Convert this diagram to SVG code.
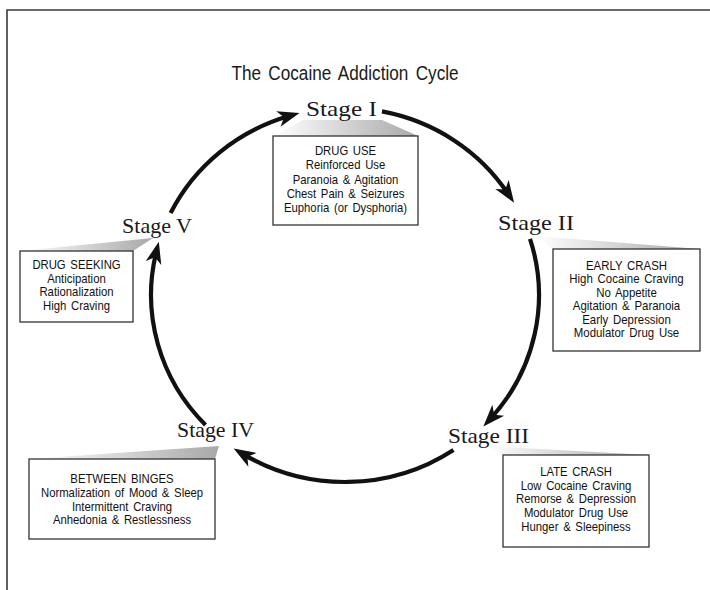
<svg xmlns="http://www.w3.org/2000/svg" width="710" height="590" viewBox="0 0 710 590">
<style>
.frame{fill:none;stroke:#3a3a3a;stroke-width:1.6}
.arc{fill:none;stroke:#111;stroke-width:4.2;marker-end:url(#ah)}
.box{fill:#fff;stroke:#333;stroke-width:1.3}
.wedge{fill:url(#wg)}
.stage{font-family:"Liberation Serif","Times New Roman",serif;font-size:21px;fill:#1a1a1a}
.bt{font-family:"Liberation Sans",Arial,sans-serif;font-size:13px;fill:#111;text-anchor:middle;word-spacing:1.8px}
.title{font-family:"Liberation Sans",Arial,sans-serif;font-size:19.5px;fill:#1a1a1a;text-anchor:middle;word-spacing:3px}
</style>
<defs>
<marker id="ah" markerUnits="userSpaceOnUse" markerWidth="22" markerHeight="16" refX="12" refY="8" orient="auto" overflow="visible">
<path d="M0,0 L22,8 L0,16 L6,8 Z" fill="#111"/>
</marker>
<linearGradient id="wg" x1="0" y1="0" x2="1" y2="0">
<stop offset="0" stop-color="#ffffff"/>
<stop offset="1" stop-color="#a8a8a8"/>
</linearGradient>
</defs>
<rect width="710" height="590" fill="#fff"/>
<path class="frame" d="M710,10 L7,10 L7,590"/>
<g transform="translate(345,80) scale(0.88,1)"><text class="title" x="0" y="0">The Cocaine Addiction Cycle</text></g>

<g id="connectors">
<path class="arc" d="M170.6,213 A194,187 0 0 1 289.9,115.7"/>
<path class="arc" d="M382,111.4 A194,187 0 0 1 508.6,194.5"/>
<path class="arc" d="M530,238.8 A194,187 0 0 1 490.1,419.1"/>
<path class="arc" d="M453.5,450 A194,187 0 0 1 242.2,453.6"/>
<path class="arc" d="M205.5,424.9 A194,187 0 0 1 156.4,251.4"/>
</g>

<g id="stage1">
<polygon class="wedge" points="273,136 303,120 382,120 418,136"/>
<rect class="box" x="273" y="136" width="145" height="89"/>
<text class="stage" x="306" y="116" textLength="71" lengthAdjust="spacingAndGlyphs">Stage I</text>
<g transform="translate(345.5,0) scale(0.87,1)">
<text class="bt" x="0" y="155">DRUG USE</text>
<text class="bt" x="0" y="169.5">Reinforced Use</text>
<text class="bt" x="0" y="184">Paranoia &amp; Agitation</text>
<text class="bt" x="0" y="198">Chest Pain &amp; Seizures</text>
<text class="bt" x="0" y="212">Euphoria (or Dysphoria)</text>
</g>
</g>

<g id="stage2">
<polygon class="wedge" points="536,236 700,249 553,249"/>
<rect class="box" x="553" y="249" width="147" height="102"/>
<text class="stage" x="498" y="230" textLength="76" lengthAdjust="spacingAndGlyphs">Stage II</text>
<g transform="translate(626.5,0) scale(0.88,1)">
<text class="bt" x="0" y="270">EARLY CRASH</text>
<text class="bt" x="0" y="283.5">High Cocaine Craving</text>
<text class="bt" x="0" y="297">No Appetite</text>
<text class="bt" x="0" y="310.5">Agitation &amp; Paranoia</text>
<text class="bt" x="0" y="324">Early Depression</text>
<text class="bt" x="0" y="337.5">Modulator Drug Use</text>
</g>
</g>

<g id="stage3">
<polygon class="wedge" points="486,446 649,455 503,455"/>
<rect class="box" x="503" y="455" width="146" height="92"/>
<text class="stage" x="448" y="443" textLength="81" lengthAdjust="spacingAndGlyphs">Stage III</text>
<g transform="translate(576,0) scale(0.87,1)">
<text class="bt" x="0" y="476">LATE CRASH</text>
<text class="bt" x="0" y="490">Low Cocaine Craving</text>
<text class="bt" x="0" y="503.5">Remorse &amp; Depression</text>
<text class="bt" x="0" y="517">Modulator Drug Use</text>
<text class="bt" x="0" y="531">Hunger &amp; Sleepiness</text>
</g>
</g>

<g id="stage4">
<polygon class="wedge" points="29,459 219,446 215,459"/>
<rect class="box" x="29" y="459" width="186" height="80"/>
<text class="stage" x="177" y="437" textLength="77" lengthAdjust="spacingAndGlyphs">Stage IV</text>
<g transform="translate(122,0) scale(0.87,1)">
<text class="bt" x="0" y="483.5">BETWEEN BINGES</text>
<text class="bt" x="0" y="497.5">Normalization of Mood &amp; Sleep</text>
<text class="bt" x="0" y="511">Intermittent Craving</text>
<text class="bt" x="0" y="524.5">Anhedonia &amp; Restlessness</text>
</g>
</g>

<g id="stage5">
<polygon class="wedge" points="20,251 153,238 133,251"/>
<rect class="box" x="20" y="251" width="113" height="71"/>
<text class="stage" x="122" y="233" textLength="70" lengthAdjust="spacingAndGlyphs">Stage V</text>
<g transform="translate(76.5,0) scale(0.87,1)">
<text class="bt" x="0" y="269.5">DRUG SEEKING</text>
<text class="bt" x="0" y="283">Anticipation</text>
<text class="bt" x="0" y="296.5">Rationalization</text>
<text class="bt" x="0" y="310">High Craving</text>
</g>
</g>
</svg>
